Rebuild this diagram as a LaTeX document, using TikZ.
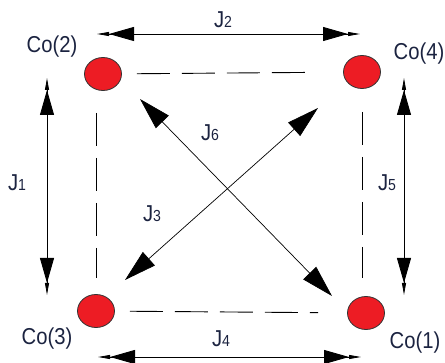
\documentclass[tikz,border=0pt]{standalone}
\usepackage{fontspec}
\setmainfont{Liberation Sans}[FakeStretch=0.88]
\usepackage{tikz}
\usetikzlibrary{arrows.meta, shapes.geometric}
\definecolor{cored}{HTML}{ED1C24}
\definecolor{inkblue}{HTML}{1B2340}
\newcommand{\jcoup}[1]{J{\fontsize{16}{16}\selectfont #1}}

\begin{document}
\begin{tikzpicture}[x=1pt, y=-1pt,
        cosite/.style={
            ellipse,
            draw=black!80,
            fill=cored,
            minimum width=37pt,
            minimum height=33pt,
            inner sep=0pt,
            line width=0.8pt
        },
        colabel/.style={font=\fontsize{23}{26}\selectfont, text=inkblue, inner sep=0pt},
        bond/.style={draw=black, line width=0.9pt, dash pattern=on 33pt off 12pt},
        axial/.style={draw=black, line width=0.8pt,
            {Triangle[length=12pt,width=4pt,sep=0pt] Triangle[length=25pt,width=14pt,sep=0pt]}-{Triangle[length=25pt,width=14pt,sep=0pt] Triangle[length=12pt,width=4pt,sep=0pt]}},
        diagarrow/.style={draw=black, line width=0.7pt,
            {Triangle[length=32pt,width=18pt]}-{Triangle[length=32pt,width=18pt]}}
    ]
        \useasboundingbox (0,0) rectangle (445,363);

        % cobalt sites
        \node[cosite] (co2) at (103,74) {};
        \node[cosite] (co4) at (362,72) {};
        \node[cosite] (co3) at (96,311) {};
        \node[cosite] (co1) at (366,313) {};

        \node[colabel] (lab2) at (52,47) {Co(2)};
        \node[colabel] (lab4) at (419,54) {Co(4)};
        \node[colabel] (lab3) at (47,339) {Co(3)};
        \node[colabel] (lab1) at (415,343) {Co(1)};

        % dashed square
        \draw[bond, shorten <=15pt, shorten >=29pt] (co2) -- (co4);
        \draw[bond, shorten <=15pt, shorten >=29pt] (co3) -- (co1);
        \draw[bond] ([yshift=-22pt]co2.south -| co3) -- ([yshift=16pt]co3.north);
        \draw[bond] ([yshift=-23pt]co4.south) -- ([yshift=18pt]co1.north -| co4);

        % couplings
        \coordinate (j2a) at (97,34);
        \coordinate (j2b) at (360,34);
        \coordinate (j4a) at (98,357);
        \coordinate (j4b) at (361,357);
        \coordinate (j1a) at (47,78);
        \coordinate (j1b) at (47,295);
        \coordinate (j5a) at (404,78);
        \coordinate (j5b) at (404,295);
        \coordinate (j6a) at (140,99);
        \coordinate (j6b) at (332,296);
        \coordinate (j3a) at (318,108);
        \coordinate (j3b) at (125,280);

        \draw[axial] (j2a) -- (j2b);
        \draw[axial] (j4a) -- (j4b);
        \draw[axial] (j1a) -- (j1b);
        \draw[axial] (j5a) -- (j5b);
        \draw[diagarrow] (j6a) -- (j6b);
        \draw[diagarrow] (j3a) -- (j3b);

        \node[colabel] (lj2) at (223,20) {\jcoup{2}};
        \node[colabel] (lj1) at (17,183) {\jcoup{1}};
        \node[colabel] (lj6) at (210,133) {\jcoup{6}};
        \node[colabel] (lj3) at (152,214) {\jcoup{3}};
        \node[colabel] (lj5) at (387,183) {\jcoup{5}};
        \node[colabel] (lj4) at (221,339) {\jcoup{4}};
    \end{tikzpicture}
\end{document}
